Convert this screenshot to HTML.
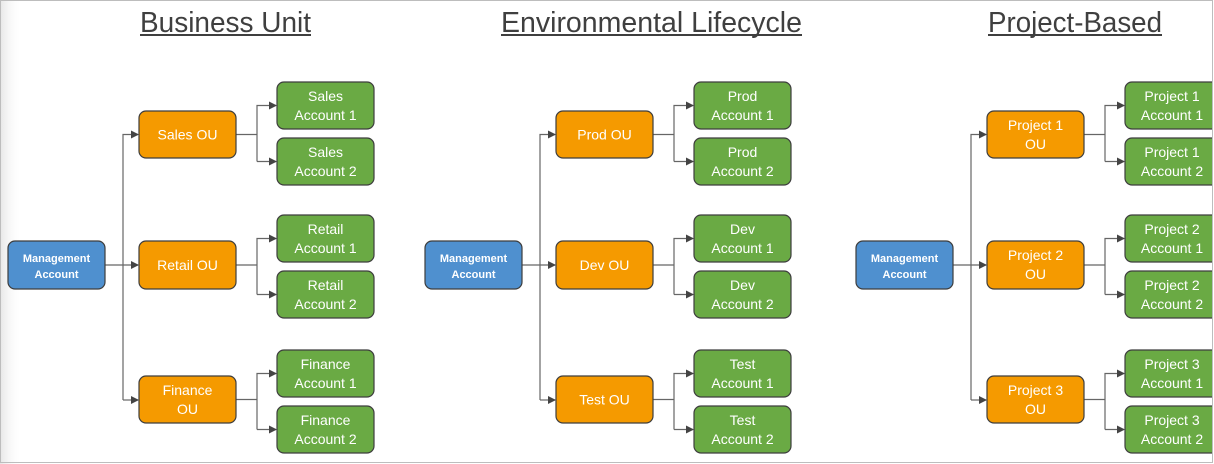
<!DOCTYPE html>
<html><head><meta charset="utf-8"><style>
html,body{margin:0;padding:0;background:#fff;}
svg{display:block;}
</style></head><body>
<svg width="1214" height="464" viewBox="0 0 1214 464" xmlns="http://www.w3.org/2000/svg" font-family="'Liberation Sans', sans-serif">
<defs>
<linearGradient id="lg" x1="0" x2="1" y1="0" y2="0"><stop offset="0" stop-color="#e6e6e6"/><stop offset="1" stop-color="#fff" stop-opacity="0"/></linearGradient>
<marker id="ar" markerWidth="8" markerHeight="8" refX="7" refY="4" orient="auto" markerUnits="userSpaceOnUse"><path d="M0,0 L8,4 L0,8 z" fill="#444"/></marker>
<g id="lines" fill="none" stroke="#666" stroke-width="1.2">
<path d="M105,265 H138" marker-end="url(#ar)"/>
<path d="M123,400 V134.5 H138" marker-end="url(#ar)"/>
<path d="M123,400 H138" marker-end="url(#ar)"/>
<path d="M236,134.5 H257"/><path d="M257,161.5 V105.5 H276" marker-end="url(#ar)"/><path d="M257,161.5 H276" marker-end="url(#ar)"/>
<path d="M236,265 H257"/><path d="M257,294.5 V238.5 H276" marker-end="url(#ar)"/><path d="M257,294.5 H276" marker-end="url(#ar)"/>
<path d="M236,399.5 H257"/><path d="M257,429.5 V373.5 H276" marker-end="url(#ar)"/><path d="M257,429.5 H276" marker-end="url(#ar)"/>
</g>
<g id="boxes" stroke="#3d3d3d" stroke-width="1.2">
<rect x="8" y="241" width="97" height="48" rx="7" fill="#4f90cf"/>
<rect x="139" y="111" width="97" height="47" rx="7" fill="#f59a00"/>
<rect x="139" y="241" width="97" height="48" rx="7" fill="#f59a00"/>
<rect x="139" y="376" width="97" height="47" rx="7" fill="#f59a00"/>
<rect x="277" y="82" width="97" height="47" rx="7" fill="#6aaa44"/>
<rect x="277" y="138" width="97" height="47" rx="7" fill="#6aaa44"/>
<rect x="277" y="215" width="97" height="47" rx="7" fill="#6aaa44"/>
<rect x="277" y="271" width="97" height="47" rx="7" fill="#6aaa44"/>
<rect x="277" y="350" width="97" height="47" rx="7" fill="#6aaa44"/>
<rect x="277" y="406" width="97" height="47" rx="7" fill="#6aaa44"/>
<text x="56.5" y="262" font-size="11" font-weight="bold" fill="#fff" stroke="none" text-anchor="middle">Management</text>
<text x="56.5" y="278" font-size="11" font-weight="bold" fill="#fff" stroke="none" text-anchor="middle">Account</text>
</g>
</defs>
<rect x="0" y="0" width="22" height="464" fill="url(#lg)"/>
<rect x="0.5" y="0.5" width="1212" height="462" fill="none" stroke="#bdbdbd"/>

<g fill="#3f3f3f" font-size="29">
<text x="140" y="32" textLength="171" lengthAdjust="spacingAndGlyphs">Business Unit</text>
<rect x="140" y="34" width="171" height="2"/>
<text x="501" y="32" textLength="301" lengthAdjust="spacingAndGlyphs">Environmental Lifecycle</text>
<rect x="501" y="34" width="301" height="2"/>
<text x="988" y="32" textLength="174" lengthAdjust="spacingAndGlyphs">Project-Based</text>
<rect x="988" y="34" width="174" height="2"/>
</g>

<use href="#lines"/><use href="#boxes"/>
<use href="#lines" x="417"/><use href="#boxes" x="417"/>
<svg x="848" y="0" width="364" height="462" overflow="hidden"><use href="#lines"/><use href="#boxes"/></svg>

<g fill="#fff" font-size="14" text-anchor="middle">
<!-- section 1 -->
<text x="187.5" y="139.5">Sales OU</text>
<text x="187.5" y="270">Retail OU</text>
<text x="187.5" y="395">Finance</text><text x="187.5" y="414">OU</text>
<text x="325.5" y="101">Sales</text><text x="325.5" y="120">Account 1</text>
<text x="325.5" y="157">Sales</text><text x="325.5" y="176">Account 2</text>
<text x="325.5" y="234">Retail</text><text x="325.5" y="253">Account 1</text>
<text x="325.5" y="290">Retail</text><text x="325.5" y="309">Account 2</text>
<text x="325.5" y="369">Finance</text><text x="325.5" y="388">Account 1</text>
<text x="325.5" y="425">Finance</text><text x="325.5" y="444">Account 2</text>
<!-- section 2 -->
<text x="604.5" y="139.5">Prod OU</text>
<text x="604.5" y="270">Dev OU</text>
<text x="604.5" y="404.5">Test OU</text>
<text x="742.5" y="101">Prod</text><text x="742.5" y="120">Account 1</text>
<text x="742.5" y="157">Prod</text><text x="742.5" y="176">Account 2</text>
<text x="742.5" y="234">Dev</text><text x="742.5" y="253">Account 1</text>
<text x="742.5" y="290">Dev</text><text x="742.5" y="309">Account 2</text>
<text x="742.5" y="369">Test</text><text x="742.5" y="388">Account 1</text>
<text x="742.5" y="425">Test</text><text x="742.5" y="444">Account 2</text>
<!-- section 3 -->
<text x="1035.5" y="130">Project 1</text><text x="1035.5" y="149">OU</text>
<text x="1035.5" y="260">Project 2</text><text x="1035.5" y="279">OU</text>
<text x="1035.5" y="395">Project 3</text><text x="1035.5" y="414">OU</text>
<text x="1172" y="101">Project 1</text><text x="1172" y="120">Account 1</text>
<text x="1172" y="157">Project 1</text><text x="1172" y="176">Account 2</text>
<text x="1172" y="234">Project 2</text><text x="1172" y="253">Account 1</text>
<text x="1172" y="290">Project 2</text><text x="1172" y="309">Account 2</text>
<text x="1172" y="369">Project 3</text><text x="1172" y="388">Account 1</text>
<text x="1172" y="425">Project 3</text><text x="1172" y="444">Account 2</text>
</g>
</svg>
</body></html>
